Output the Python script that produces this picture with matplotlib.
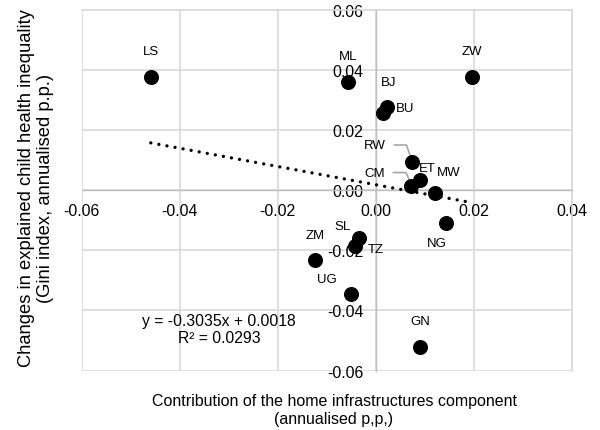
import matplotlib as mpl
mpl.use('Agg')
import matplotlib.pyplot as plt
import matplotlib.transforms as mtransforms
import numpy as np

# Country codes and their values
countries = ['LS', 'ML', 'ZW', 'BJ', 'BU', 'RW', 'ET', 'CM', 'MW', 'NG',
             'SL', 'TZ', 'ZM', 'UG', 'GN']
contrib = [-0.0459, -0.0057, 0.0197, 0.0024, 0.0014, 0.0075, 0.0090, 0.0072,
           0.0121, 0.0144, -0.0034, -0.0042, -0.0124, -0.0050, 0.0090]
change = [0.0376, 0.0359, 0.0377, 0.0276, 0.0257, 0.0092, 0.0034, 0.0014,
          -0.0011, -0.0110, -0.0158, -0.0186, -0.0233, -0.0344, -0.0522]

# Linear trend reported on the chart
slope = -0.3035
intercept = 0.0018
r2 = 0.0293

# label offsets from the dot (pixels, +y is up)
lab_off = {'LS': (0, 26), 'ML': (0, 26), 'ZW': (0, 26), 'BJ': (1, 25),
           'BU': (22, 5), 'RW': (-38, 17), 'ET': (7, 12), 'CM': (-36, 13),
           'MW': (14, 21), 'NG': (-9, -20), 'SL': (-17, 12), 'TZ': (21, -3),
           'ZM': (0, 25), 'UG': (-24, 15), 'GN': (0, 26)}
# leader lines (pixels relative to the dot)
leaders = {'RW': [(-18, 17.5), (-6, 17.5), (-1.7, 5)],
           'CM': [(-17.5, 13.4), (-5, 13.4), (0, 2)]}

plt.rcParams['font.family'] = ['Liberation Sans', 'DejaVu Sans']
plt.rcParams['axes.unicode_minus'] = False

fig = plt.figure(figsize=(6.0, 4.31), dpi=100)
ax = fig.add_axes([0.1362, 0.138, 0.8167, 0.837])

ax.set_xlim(-0.06, 0.04)
ax.set_ylim(-0.06, 0.06)
ax.set_xticks(np.arange(-0.06, 0.041, 0.02))
ax.set_yticks(np.arange(-0.06, 0.061, 0.02))
ax.xaxis.set_major_formatter(mpl.ticker.FormatStrFormatter('%.2f'))
ax.yaxis.set_major_formatter(mpl.ticker.FormatStrFormatter('%.2f'))
ax.grid(True, color='#d9d9d9', linewidth=1.2)
ax.set_axisbelow(True)

# axes cross at zero, like the spreadsheet version
ax.spines['left'].set_position(('data', 0))
ax.spines['bottom'].set_position(('data', 0))
for s in ['left', 'bottom']:
    ax.spines[s].set_color('#bfbfbf')
    ax.spines[s].set_linewidth(1.0)
for s in ['top', 'right']:
    ax.spines[s].set_color('#d9d9d9')
    ax.spines[s].set_linewidth(1.2)
ax.tick_params(axis='both', length=0, labelsize=11.4, colors='black')
ax.tick_params(axis='y', pad=9)
ax.tick_params(axis='x', pad=9)

# trendline over the data range
xt = np.array([min(contrib), max(contrib)])
ax.plot(xt, slope * xt + intercept, color='black', linewidth=2.4,
        linestyle=(0, (0.01, 2.45)), dash_capstyle='round', zorder=3)

ax.plot(contrib, change, 'o', color='black', markersize=9.8, zorder=4)

for name, x, y in zip(countries, contrib, change):
    dx, dy = lab_off[name]
    ax.annotate(name, (x, y), xytext=(dx * 0.72, dy * 0.72),
                textcoords='offset points', ha='center', va='center',
                fontsize=9.5, zorder=5)
    if name in leaders:
        tr = fig.dpi_scale_trans + mtransforms.ScaledTranslation(x, y, ax.transData)
        pts = np.array(leaders[name]) / 100.0
        ax.plot(pts[:, 0], pts[:, 1], color='#a6a6a6', linewidth=1.2,
                transform=tr, zorder=3)

eq = 'y = %.4fx + %.4f\nR² = %.4f' % (slope, intercept, r2)
ax.text(-0.0320, -0.0463, eq, ha='center', va='center', fontsize=11.3,
        linespacing=1.15)

fig.text(334 / 600, 1 - 410.5 / 431,
         'Contribution of the home infrastructures component\n(annualised p,p,)',
         ha='center', va='center', fontsize=11.5, linespacing=1.3)
fig.text(36 / 600, 1 - 188.5 / 431,
         'Changes in explained child health inequality\n(Gini index, annualised p.p.)',
         ha='center', va='center', rotation=90, fontsize=13.2, linespacing=1.2)

plt.savefig('out.png', dpi=100)
plt.close()
